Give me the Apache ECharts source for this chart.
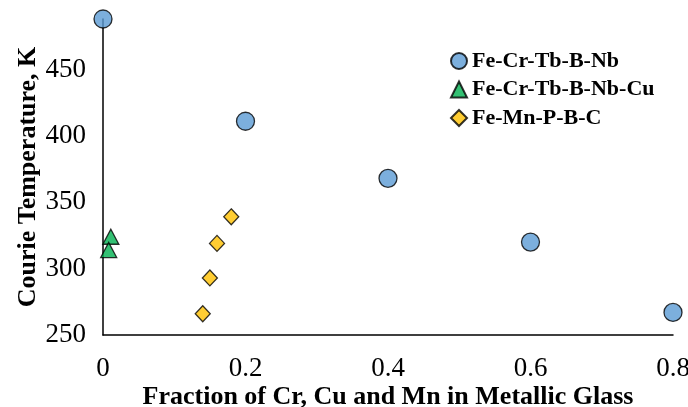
<!DOCTYPE html>
<html><head><meta charset="utf-8">
<script src="https://cdn.jsdelivr.net/npm/echarts@6/dist/echarts.min.js"></script>
<style>html,body{margin:0;padding:0;background:#fff}#c{width:688px;height:407px}</style>
</head><body><div id="c"></div>
<script>
const seriesNames = ['Fe-Cr-Tb-B-Nb', 'Fe-Cr-Tb-B-Nb-Cu', 'Fe-Mn-P-B-C'];
const feCrTbBNb = [[0, 488], [0.2, 411], [0.4, 368], [0.6, 320], [0.8, 267]];
const feCrTbBNbCu = [[0.011, 324], [0.008, 314]];
const feMnPBC = [[0.14, 266], [0.15, 293], [0.16, 319], [0.18, 339]];
const xTicks = [0, 0.2, 0.4, 0.6, 0.8];
const yTicks = [250, 300, 350, 400, 450];

const chart = echarts.init(document.getElementById('c'));
const font = 'Liberation Serif';
const markStyle = (c) => ({ color: c, borderColor: '#000', borderWidth: 1.3 });
chart.setOption({
  animation: false,
  grid: { left: 103, right: 15, top: 19, bottom: 72, containLabel: false, outerBoundsMode: 'none' },
  legend: {
    left: 445, top: 45, orient: 'vertical', itemGap: 6.5,
    itemWidth: 16, itemHeight: 16,
    textStyle: { fontFamily: font, fontWeight: 'bold', fontSize: 22, color: '#000' },
    data: [
      { name: seriesNames[0], icon: 'circle' },
      { name: seriesNames[1], icon: 'triangle' },
      { name: seriesNames[2], icon: 'diamond' }
    ]
  },
  xAxis: {
    type: 'value', min: 0, max: 0.8, interval: 0.2,
    name: 'Fraction of Cr, Cu and Mn in Metallic Glass',
    nameLocation: 'middle', nameGap: 49, nameMoveOverlap: false,
    nameTextStyle: { fontFamily: font, fontWeight: 'bold', fontSize: 26, color: '#000' },
    axisLine: { lineStyle: { color: '#000', width: 1.5 } },
    axisTick: { show: false }, splitLine: { show: false },
    axisLabel: { fontFamily: font, fontSize: 27, color: '#000', margin: 20,
      formatter: v => xTicks.includes(+v.toFixed(1)) ? String(+v.toFixed(1)) : '' }
  },
  yAxis: {
    type: 'value', min: 250, max: 488, interval: 50,
    name: 'Courie Temperature, K',
    nameLocation: 'middle', nameGap: 62, nameMoveOverlap: false,
    nameTextStyle: { fontFamily: font, fontWeight: 'bold', fontSize: 26, color: '#000' },
    axisLine: { show: true, lineStyle: { color: '#000', width: 1.5 } },
    axisTick: { show: false }, splitLine: { show: false },
    axisLabel: { fontFamily: font, fontSize: 27, color: '#000', margin: 17, showMaxLabel: false,
      formatter: v => yTicks.includes(v) ? String(v) : '' }
  },
  series: [
    { name: seriesNames[0], type: 'scatter', symbol: 'circle', symbolSize: 18, data: feCrTbBNb, itemStyle: markStyle('#5B9BD5'), z: 3 },
    { name: seriesNames[1], type: 'scatter', symbol: 'triangle', symbolSize: [16, 15], data: feCrTbBNbCu, itemStyle: markStyle('#00B050'), z: 3 },
    { name: seriesNames[2], type: 'scatter', symbol: 'diamond', symbolSize: [15, 16], data: feMnPBC, itemStyle: markStyle('#FFC000'), z: 3 }
  ]
});
</script></body></html>
